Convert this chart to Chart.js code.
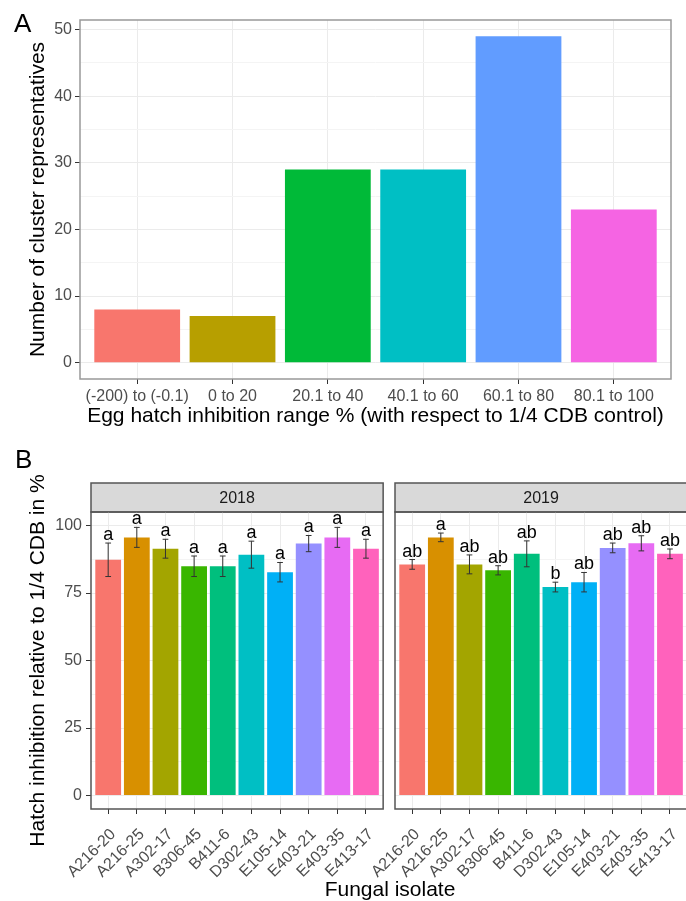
<!DOCTYPE html>
<html>
<head>
<meta charset="utf-8">
<title>Egg hatch inhibition</title>
<script src="https://cdn.jsdelivr.net/npm/chart.js@4.4.1/dist/chart.umd.min.js"></script>
<style>
  html, body { margin: 0; padding: 0; background: #fff; overflow: hidden; }
  #page { position: relative; width: 686px; height: 901px; overflow: hidden;
          font-family: "Liberation Sans", Arial, sans-serif; }
  .box { position: absolute; }
  .tag { position: absolute; color: #000; line-height: 1; }
  #xTitleB { position: absolute; left: 0; width: 780px; top: 877px; text-align: center;
             font-size: 21px; line-height: 24px; color: #000; }
</style>
</head>
<body>
<div id="page">
  <div class="box" style="left:0; top:0; width:686px; height:430px;"><canvas id="chartA"></canvas></div>
  <div class="box" style="left:0; top:460px; width:391px; height:441px;"><canvas id="chart2018"></canvas></div>
  <div class="box" style="left:340px; top:460px; width:355px; height:441px;"><canvas id="chart2019"></canvas></div>
  <div class="tag" style="left:14px; top:10px; font-size:26px;">A</div>
  <div class="tag" style="left:15px; top:446px; font-size:26px;">B</div>
  <div id="xTitleB">Fungal isolate</div>
</div>

<script>
// --- panel A: number of cluster representatives per inhibition range
const rangeLabels = ['(-200) to (-0.1)', '0 to 20', '20.1 to 40', '40.1 to 60', '60.1 to 80', '80.1 to 100'];
const clusterCounts = [8, 7, 29, 29, 49, 23];
const countTicks = [0, 10, 20, 30, 40, 50];
const countMinorTicks = [5, 15, 25, 35, 45];

// --- panel B: hatch inhibition per fungal isolate, one facet per year
const isolates = ['A216-20', 'A216-25', 'A302-17', 'B306-45', 'B411-6', 'D302-43', 'E105-14', 'E403-21', 'E403-35', 'E413-17'];
const hatch2018 = [87.3, 95.6, 91.4, 84.9, 84.9, 89.2, 82.7, 93.3, 95.6, 91.4];
const err2018 = [6.2, 3.7, 3.5, 3.8, 3.8, 5.0, 3.6, 3.0, 3.7, 3.5];
const letters2018 = ['a', 'a', 'a', 'a', 'a', 'a', 'a', 'a', 'a', 'a'];
const hatch2019 = [85.6, 95.6, 85.6, 83.4, 89.5, 77.2, 79.0, 91.7, 93.4, 89.5];
const err2019 = [1.8, 1.6, 3.5, 1.7, 4.8, 1.8, 3.6, 1.8, 2.8, 1.8];
const letters2019 = ['ab', 'a', 'ab', 'ab', 'ab', 'b', 'ab', 'ab', 'ab', 'ab'];
const hatchTicks = [0, 25, 50, 75, 100];
const hatchMinorTicks = [12.5, 37.5, 62.5, 87.5];

// ggplot default hue palettes
const rangeColors = ['#F8766D', '#B79F00', '#00BA38', '#00BFC4', '#619CFF', '#F564E3'];
const isolateColors = ['#F8766D', '#D89000', '#A3A500', '#39B600', '#00BF7D', '#00BFC4', '#00B0F6', '#9590FF', '#E76BF3', '#FF62BC'];

Chart.defaults.font.family = '"Liberation Sans", Arial, sans-serif';
Chart.defaults.color = '#4D4D4D';
Chart.defaults.animation = false;

const toPoints = vals => vals.map((v, i) => ({x: i + 1, y: v}));
const tickList = (major, minor) => major.concat(minor).sort((a, b) => a - b).map(v => ({value: v}));

// grey frame round the plotting panel (theme_bw border)
const panelFrame = {
    id: 'panelFrame',
    afterDraw(chart, args, opts) {
        const {ctx, chartArea: a} = chart;
        ctx.save();
        ctx.strokeStyle = opts.color;
        ctx.lineWidth = opts.width;
        ctx.strokeRect(a.left, a.top, a.right - a.left, a.bottom - a.top);
        ctx.restore();
    }
};

// grey facet strip behind the title block
const facetStrip = {
    id: 'facetStrip',
    beforeDraw(chart) {
        const {ctx, chartArea: a} = chart;
        const t = chart.titleBlock;
        if (!t) return;
        ctx.save();
        ctx.fillStyle = '#D9D9D9';
        ctx.fillRect(a.left, t.top, a.right - a.left, t.bottom - t.top);
        ctx.strokeStyle = '#555';
        ctx.lineWidth = 1.5;
        ctx.strokeRect(a.left, t.top, a.right - a.left, t.bottom - t.top);
        ctx.restore();
    }
};

// error bars and significance letters from the dataset's own arrays
const errorBars = {
    id: 'errorBars',
    afterDatasetsDraw(chart) {
        const {ctx, scales: {x, y}} = chart;
        const ds = chart.data.datasets[0];
        ctx.save();
        ctx.strokeStyle = '#333';
        ctx.lineWidth = 1;
        ctx.fillStyle = '#000';
        ctx.font = '18px "Liberation Sans", Arial, sans-serif';
        ctx.textAlign = 'center';
        ctx.textBaseline = 'alphabetic';
        ds.data.forEach((pt, i) => {
            const px = x.getPixelForValue(pt.x);
            const half = x.getPixelForValue(pt.x + 0.1) - px;
            const top = y.getPixelForValue(pt.y + ds.errors[i]);
            const bot = y.getPixelForValue(pt.y - ds.errors[i]);
            ctx.beginPath();
            ctx.moveTo(px, top); ctx.lineTo(px, bot);
            ctx.moveTo(px - half, top); ctx.lineTo(px + half, top);
            ctx.moveTo(px - half, bot); ctx.lineTo(px + half, bot);
            ctx.stroke();
            ctx.fillText(ds.letters[i], px, top - 3);
        });
        ctx.restore();
    }
};

function gridColour(major) {
    return ctx => major.includes(ctx.tick.value) ? '#EBEBEB' : '#F4F4F4';
}
function tickColour(major) {
    return ctx => major.includes(ctx.tick.value) ? '#333333' : 'rgba(0,0,0,0)';
}

// Panel A
new Chart(document.getElementById('chartA'), {
    type: 'bar',
    data: {
        datasets: [{
            data: toPoints(clusterCounts),
            backgroundColor: rangeColors,
            borderWidth: 0,
            categoryPercentage: 1,
            barPercentage: 0.9
        }]
    },
    options: {
        responsive: true,
        maintainAspectRatio: false,
        layout: {padding: {top: 20, right: 15, bottom: 0, left: 0}},
        plugins: {
            legend: {display: false},
            tooltip: {enabled: false},
            panelFrame: {color: '#999', width: 1.5}
        },
        scales: {
            x: {
                type: 'linear',
                min: 0.4, max: rangeLabels.length + 0.6,
                offset: false,
                afterBuildTicks: s => { s.ticks = rangeLabels.map((_, i) => ({value: i + 1})); },
                afterFit: s => { s.height = 51; },
                ticks: {
                    callback: v => rangeLabels[v - 1],
                    autoSkip: false, maxRotation: 0, minRotation: 0,
                    font: {size: 16}, color: '#4D4D4D', padding: 3
                },
                grid: {offset: false, color: '#EBEBEB', tickLength: 5, tickColor: '#333333'},
                border: {display: false},
                title: {
                    display: true,
                    text: 'Egg hatch inhibition range % (with respect to 1/4 CDB control)',
                    color: '#000', font: {size: 21}, padding: {top: 0, bottom: 1}
                }
            },
            y: {
                min: -2.45, max: 51.45,
                afterBuildTicks: s => { s.ticks = tickList(countTicks, countMinorTicks); },
                afterFit: s => { s.width = 80; },
                ticks: {
                    callback: v => countTicks.includes(v) ? v : '',
                    autoSkip: false, font: {size: 16}, color: '#4D4D4D', padding: 3
                },
                grid: {color: gridColour(countTicks), tickLength: 5, tickColor: tickColour(countTicks)},
                border: {display: false},
                title: {
                    display: true,
                    text: 'Number of cluster representatives',
                    color: '#000', font: {size: 21}, padding: {top: 26, bottom: 0}
                }
            }
        }
    },
    plugins: [panelFrame]
});

// Panel B facets
function makeFacet(id, year, values, errors, letters, firstPanel) {
    return new Chart(document.getElementById(id), {
        type: 'bar',
        data: {
            datasets: [{
                data: toPoints(values),
                errors: errors,
                letters: letters,
                backgroundColor: isolateColors,
                borderWidth: 0,
                categoryPercentage: 1,
                barPercentage: 0.9
            }]
        },
        options: {
            responsive: true,
            maintainAspectRatio: false,
            // right padding leaves room for the rotated labels so the panel keeps its width
            layout: {padding: {top: 23, right: 6, bottom: 0, left: 0}},
            plugins: {
                legend: {display: false},
                tooltip: {enabled: false},
                title: {
                    display: true, text: year, fullSize: false,
                    color: '#1A1A1A', font: {size: 16, weight: 'normal'},
                    padding: {top: 5.8, bottom: 4}
                },
                panelFrame: {color: '#555', width: 1.5}
            },
            scales: {
                x: {
                    type: 'linear',
                    min: 0.4, max: isolates.length + 0.6,
                    offset: false,
                    afterBuildTicks: s => { s.ticks = isolates.map((_, i) => ({value: i + 1})); },
                    afterFit: s => { s.height = 92; },
                    ticks: {
                        callback: v => isolates[v - 1],
                        autoSkip: false, maxRotation: 45, minRotation: 45,
                        font: {size: 16}, color: '#4D4D4D', padding: 11, labelOffset: 5
                    },
                    grid: {offset: false, color: '#EBEBEB', tickLength: 5, tickColor: '#333333'},
                    border: {display: false}
                },
                y: {
                    min: -5, max: 105,
                    afterBuildTicks: s => { s.ticks = tickList(hatchTicks, hatchMinorTicks); },
                    afterFit: s => { s.width = firstPanel ? 91 : 55; },
                    ticks: {
                        display: firstPanel,
                        callback: v => hatchTicks.includes(v) ? v : '',
                        autoSkip: false, font: {size: 16}, color: '#4D4D4D', padding: 4
                    },
                    grid: {
                        color: gridColour(hatchTicks),
                        drawTicks: firstPanel, tickLength: 5, tickColor: tickColour(hatchTicks)
                    },
                    border: {display: false},
                    title: {
                        display: firstPanel,
                        text: 'Hatch inhibition relative to 1/4 CDB in %',
                        color: '#000', font: {size: 21}, padding: {top: 26, bottom: 0}
                    }
                }
            }
        },
        plugins: [facetStrip, panelFrame, errorBars]
    });
}

makeFacet('chart2018', '2018', hatch2018, err2018, letters2018, true);
makeFacet('chart2019', '2019', hatch2019, err2019, letters2019, false);
</script>
</body>
</html>
